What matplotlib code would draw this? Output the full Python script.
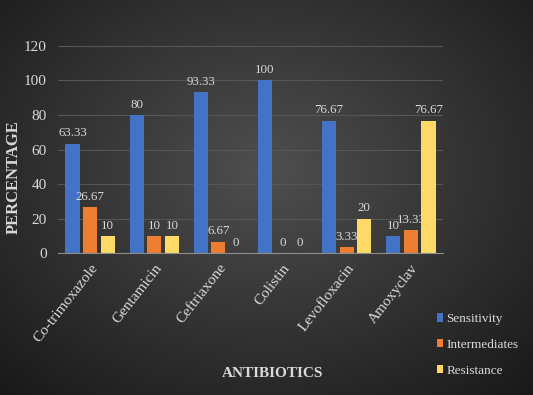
import matplotlib.pyplot as plt
import numpy as np

antibiotics = ['Co-trimoxazole', 'Gentamicin', 'Ceftriaxone', 'Colistin', 'Levofloxacin', 'Amoxyclav']
sensitivity = [63.33, 80, 93.33, 100, 76.67, 10]
intermediates = [26.67, 10, 6.67, 0, 3.33, 13.33]
resistance = [10, 10, 0, 0, 20, 76.67]
series_names = ['Sensitivity', 'Intermediates', 'Resistance']
yticks = [0, 20, 40, 60, 80, 100, 120]

plt.rcParams['font.family'] = ['Liberation Serif', 'DejaVu Serif']
txt = '#d9d9d9'

fig = plt.figure(figsize=(5.33, 3.95), dpi=100)

# radial background
bg = fig.add_axes([0, 0, 1, 1], zorder=-10)
yy, xx = np.mgrid[0:395, 0:533]
r = np.sqrt(((xx - 266) / 330.0) ** 2 + ((yy - 170) / 260.0) ** 2)
shade = np.clip(0.31 - 0.18 * r, 0.10, 0.31)
bg.imshow(np.dstack([shade] * 3), aspect='auto', extent=[0, 1, 0, 1])
bg.axis('off')

ax = fig.add_axes([0.109, 0.359, 0.722, 0.525])
ax.set_facecolor('none')

x = np.arange(len(antibiotics))
w = 0.22
pitch = 0.275
colors = ['#4472C4', '#ED7D31', '#FFD966']
for i, (vals, name, c) in enumerate(zip([sensitivity, intermediates, resistance], series_names, colors)):
    pos = x + (i - 1) * pitch
    ax.bar(pos, vals, w, color=c, label=name, zorder=3)
    for p, v in zip(pos, vals):
        ax.text(p, v + 2.5, f'{v:g}', ha='center', va='bottom', color=txt, fontsize=9.3)

ax.set_xlim(-0.5, len(antibiotics) - 0.5)
ax.set_ylim(0, 120)
ax.set_yticks(yticks)
ax.yaxis.grid(True, color='#565656', linewidth=0.8, zorder=0)
ax.tick_params(axis='both', length=0, colors=txt, labelsize=11)
ax.tick_params(axis='y', pad=8)
ax.tick_params(axis='x', pad=6)
ax.set_xticks(x)
ax.set_xticklabels(antibiotics, rotation=52, ha='right', rotation_mode='anchor', color=txt)
for s in ['top', 'right', 'left']:
    ax.spines[s].set_visible(False)
ax.spines['bottom'].set_color('#8c8c8c')
ax.spines['bottom'].set_zorder(4)

ax.set_xlabel('ANTIBIOTICS', color=txt, fontweight='bold', fontsize=11)
ax.xaxis.set_label_coords(0.557, -0.55)
ax.set_ylabel('PERCENTAGE', color=txt, fontweight='bold', fontsize=12)
ax.yaxis.set_label_coords(-0.094, 0.367)

handles, labels = ax.get_legend_handles_labels()
leg = fig.legend(handles, labels, loc='center left', bbox_to_anchor=(0.82, 0.127), frameon=False,
                 handlelength=0.45, handleheight=0.6, handletextpad=0.25,
                 labelspacing=1.05, fontsize=9.5, borderaxespad=0, borderpad=0)
for t in leg.get_texts():
    t.set_color(txt)

fig.savefig('out.png', dpi=100)
